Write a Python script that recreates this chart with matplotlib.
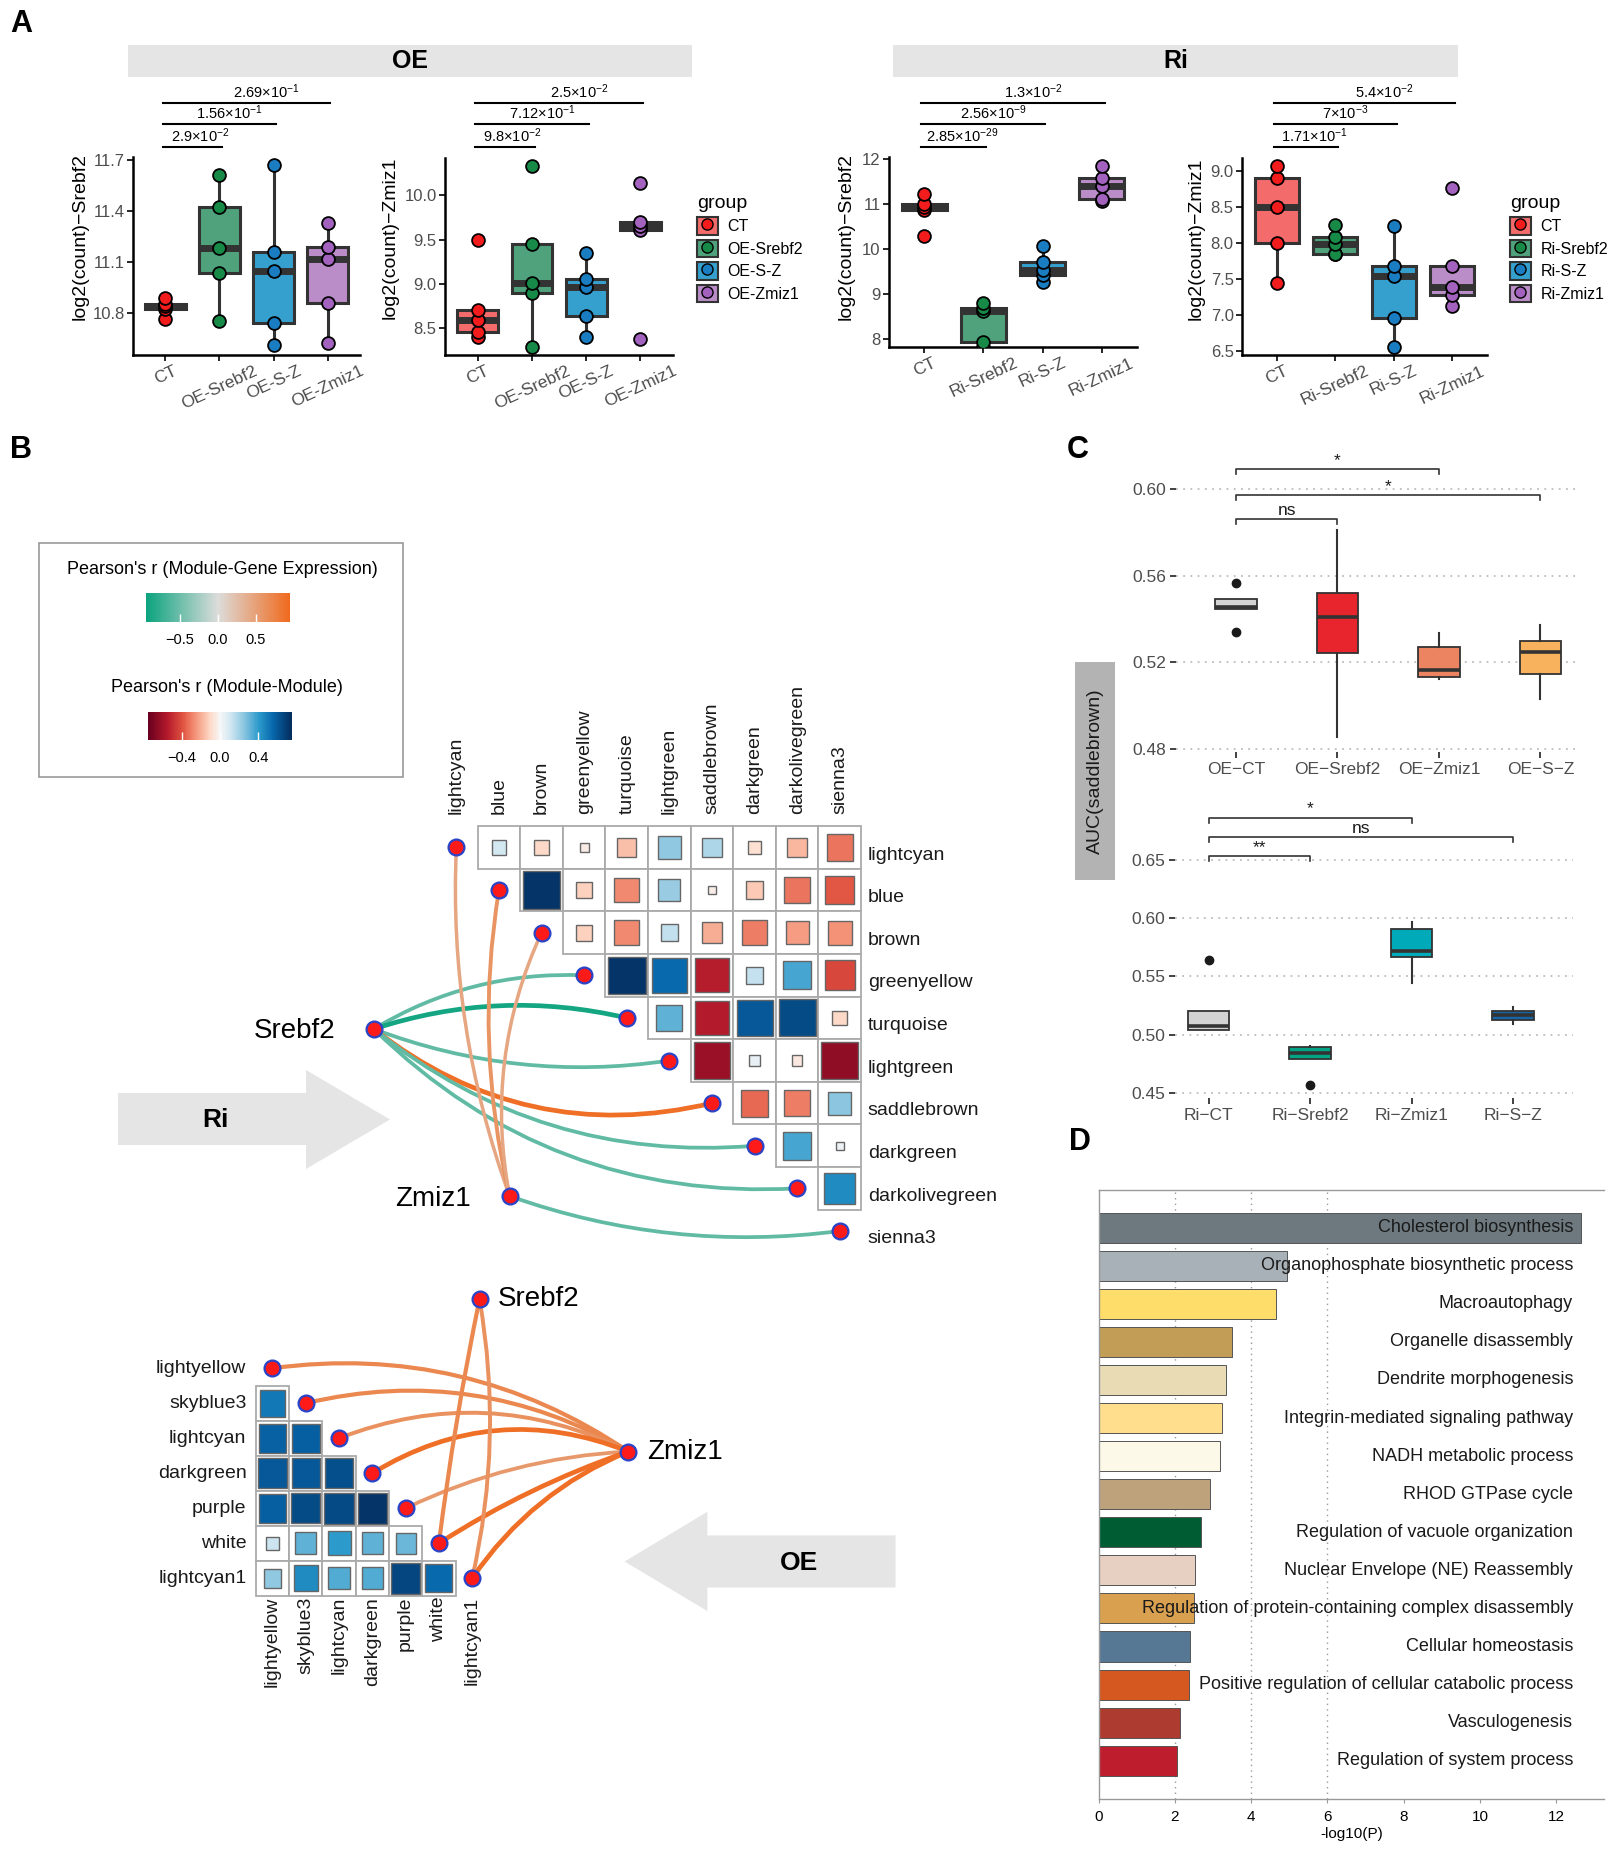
import numpy as np
import matplotlib
matplotlib.use('Agg')
import matplotlib.pyplot as plt
import matplotlib.transforms as mtransforms
from matplotlib.patches import Rectangle, Polygon, Patch, FancyArrowPatch
from matplotlib.lines import Line2D
from matplotlib.colors import LinearSegmentedColormap, Normalize
from matplotlib.cm import ScalarMappable

plt.rcParams['font.family'] = ['Liberation Sans', 'DejaVu Sans']
plt.rcParams['mathtext.fontset'] = 'custom'
plt.rcParams['mathtext.rm'] = 'Liberation Sans'
plt.rcParams['mathtext.it'] = 'Liberation Sans:italic'
plt.rcParams['mathtext.bf'] = 'Liberation Sans:bold'

W, H = 1617, 1855

# ---------------- data: panel A ----------------
oe_groups = ['CT', 'OE-Srebf2', 'OE-S-Z', 'OE-Zmiz1']
ri_groups = ['CT', 'Ri-Srebf2', 'Ri-S-Z', 'Ri-Zmiz1']

oe_srebf2 = [[10.765, 10.82, 10.84, 10.85, 10.889],
             [10.751, 11.036, 11.18, 11.426, 11.613],
             [10.607, 10.737, 11.046, 11.158, 11.672],
             [10.623, 10.859, 11.12, 11.19, 11.332]]
oe_zmiz1 = [[8.406, 8.463, 8.60, 8.706, 9.494],
            [8.294, 8.901, 9.014, 9.449, 10.326],
            [8.399, 8.639, 8.961, 9.051, 9.351],
            [8.376, 9.606, 9.651, 9.70, 10.139]]
ri_srebf2 = [[10.28, 10.87, 10.92, 10.99, 11.22],
             [7.82, 7.93, 8.62, 8.69, 8.80],
             [9.26, 9.43, 9.52, 9.70, 10.06],
             [11.06, 11.11, 11.39, 11.58, 11.85]]
ri_zmiz1 = [[7.444, 8.0, 8.5, 8.907, 9.065],
            [7.843, 7.85, 7.99, 8.083, 8.245],
            [6.556, 6.949, 7.537, 7.68, 8.231],
            [7.12, 7.273, 7.389, 7.68, 8.769]]

sig_oe_srebf2 = [(2, '2.9×10$^{-2}$'), (3, '1.56×10$^{-1}$'), (4, '2.69×10$^{-1}$')]
sig_oe_zmiz1 = [(2, '9.8×10$^{-2}$'), (3, '7.12×10$^{-1}$'), (4, '2.5×10$^{-2}$')]
sig_ri_srebf2 = [(2, '2.85×10$^{-29}$'), (3, '2.56×10$^{-9}$'), (4, '1.3×10$^{-2}$')]
sig_ri_zmiz1 = [(2, '1.71×10$^{-1}$'), (3, '7×10$^{-3}$'), (4, '5.4×10$^{-2}$')]

box_fill = ['#F46B6B', '#4FA27C', '#35A0CE', '#BB8DC8']
pt_fill = ['#F21C1C', '#178A48', '#1A7DC2', '#A262BE']

# ---------------- data: panel B ----------------
modules_ri = ['lightcyan', 'blue', 'brown', 'greenyellow', 'turquoise', 'lightgreen',
              'saddlebrown', 'darkgreen', 'darkolivegreen', 'sienna3']
# upper triangle, row i against modules i+1 ...
mm_ri = [[0.10, -0.10, -0.04, -0.16, 0.24, 0.18, -0.08, -0.18, -0.32],
         [0.72, -0.12, -0.28, 0.22, -0.03, -0.14, -0.32, -0.38],
         [-0.12, -0.28, 0.14, -0.20, -0.30, -0.24, -0.26],
         [0.72, 0.55, -0.54, 0.13, 0.36, -0.42],
         [0.32, -0.55, 0.60, 0.64, -0.10],
         [-0.62, 0.05, -0.05, -0.64],
         [-0.34, -0.30, 0.25],
         [0.36, 0.03],
         [0.45]]
edges_ri = [('Srebf2', 3, -0.55), ('Srebf2', 4, -0.90), ('Srebf2', 5, -0.55),
            ('Srebf2', 6, 0.90), ('Srebf2', 7, -0.55), ('Srebf2', 8, -0.55),
            ('Zmiz1', 0, 0.45), ('Zmiz1', 1, 0.60), ('Zmiz1', 2, 0.45), ('Zmiz1', 9, -0.55)]

modules_oe = ['lightyellow', 'skyblue3', 'lightcyan', 'darkgreen', 'purple', 'white', 'lightcyan1']
# lower triangle, row i+1 against modules 0 .. i
mm_oe = [[0.50],
         [0.57, 0.58],
         [0.60, 0.60, 0.63],
         [0.58, 0.64, 0.65, 0.72],
         [0.12, 0.32, 0.40, 0.32, 0.30],
         [0.24, 0.45, 0.34, 0.34, 0.66, 0.55]]
edges_oe = [('Zmiz1', 0, 0.70), ('Zmiz1', 1, 0.70), ('Zmiz1', 2, 0.62), ('Zmiz1', 3, 0.90),
            ('Zmiz1', 4, 0.55), ('Zmiz1', 5, 0.90), ('Zmiz1', 6, 0.90),
            ('Srebf2', 5, 0.70), ('Srebf2', 6, 0.62)]

# ---------------- data: panel C ----------------
c_oe_labels = ['OE\u2212CT', 'OE\u2212Srebf2', 'OE\u2212Zmiz1', 'OE\u2212S\u2212Z']
c_oe_q1 = [0.5444, 0.5243, 0.5133, 0.5144]
c_oe_med = [0.5454, 0.5411, 0.5164, 0.5249]
c_oe_q3 = [0.5493, 0.5520, 0.5269, 0.5300]
c_oe_lo = [0.5444, 0.4856, 0.5125, 0.5031]
c_oe_hi = [0.5493, 0.5809, 0.5335, 0.5370]
c_oe_out = [[0.5567, 0.5339], [], [], []]
c_oe_sig = [(2, 'ns'), (3, '*'), (4, '*')]

c_ri_labels = ['Ri\u2212CT', 'Ri\u2212Srebf2', 'Ri\u2212Zmiz1', 'Ri\u2212S\u2212Z']
c_ri_q1 = [0.5036, 0.4795, 0.5669, 0.5125]
c_ri_med = [0.5075, 0.4845, 0.5715, 0.5171]
c_ri_q3 = [0.5201, 0.4891, 0.5910, 0.5201]
c_ri_lo = [0.5036, 0.4795, 0.5439, 0.5094]
c_ri_hi = [0.5201, 0.4902, 0.5964, 0.5236]
c_ri_out = [[0.5642], [0.4569], [], []]
c_ri_sig = [(3, '*'), (4, 'ns'), (2, '**')]

c_oe_colors = ['#D3D3D3', '#E8252C', '#EC8462', '#F8B15C']
c_ri_colors = ['#D3D3D3', '#00A383', '#00AAB8', '#1565A8']

# ---------------- data: panel D ----------------
d_terms = ['Cholesterol biosynthesis', 'Organophosphate biosynthetic process', 'Macroautophagy',
           'Organelle disassembly', 'Dendrite morphogenesis', 'Integrin-mediated signaling pathway',
           'NADH metabolic process', 'RHOD GTPase cycle', 'Regulation of vacuole organization',
           'Nuclear Envelope (NE) Reassembly', 'Regulation of protein-containing complex disassembly',
           'Cellular homeostasis', 'Positive regulation of cellular catabolic process',
           'Vasculogenesis', 'Regulation of system process']
d_vals = [12.65, 4.95, 4.66, 3.51, 3.35, 3.24, 3.18, 2.91, 2.68, 2.54, 2.50, 2.41, 2.36, 2.14, 2.07]
d_colors = ['#6D797E', '#A9B1B8', '#FFDD6A', '#C29D56', '#E9DBB3', '#FFDF8E', '#FCF9E9', '#BEA27B',
            '#005C33', '#E7D0C1', '#D9A04F', '#577895', '#D4581F', '#AE3B2F', '#BD1D2C']

# colour scales
gene_cmap = LinearSegmentedColormap.from_list('gene', ['#0AA37E', '#DCDCDA', '#F06A1E'])
gene_norm = Normalize(-0.95, 0.95)
mod_cmap = LinearSegmentedColormap.from_list('mod', [
    (0.0, '#67001F'), (0.13, '#B2182B'), (0.24, '#E0523F'), (0.33, '#F4957A'), (0.43, '#FDD8C6'),
    (0.5, '#F7F7F7'), (0.57, '#D3E8F2'), (0.67, '#88C4DF'), (0.77, '#2B9ACB'), (0.87, '#0767AB'),
    (1.0, '#032B5C')])
mod_norm = Normalize(-0.75, 0.75)

fig = plt.figure(figsize=(W / 100, H / 100), dpi=100)


def rect(x0, y0, x1, y1):
    return [x0 / W, 1 - y1 / H, (x1 - x0) / W, (y1 - y0) / H]


def ftext(x, y, s, **kw):
    return fig.text(x / W, 1 - y / H, s, **kw)


def frect(x0, y0, x1, y1, **kw):
    fig.add_artist(Rectangle((x0 / W, 1 - y1 / H), (x1 - x0) / W, (y1 - y0) / H,
                             transform=fig.transFigure, zorder=-1, **kw))


def fpoly(pts, **kw):
    fig.add_artist(Polygon([(x / W, 1 - y / H) for x, y in pts], closed=True,
                           transform=fig.transFigure, zorder=-1, **kw))


# ---------------- panel A ----------------
sig_px = [147, 124, 103]
sig_shift = [8, 10, 20]  # label offset to the right, pixels


def a_panel(px, values, groups, ylim, yticks, yfmt, ylabel, ylab_xy, sig):
    ax = fig.add_axes(rect(*px))
    pos = np.arange(1, len(values) + 1)
    bp = ax.boxplot(values, positions=pos, widths=0.75, patch_artist=True,
                    showfliers=False, showcaps=False, whis=1.5,
                    boxprops=dict(edgecolor='#333333', linewidth=2.2),
                    whiskerprops=dict(color='#333333', linewidth=2.2),
                    medianprops=dict(color='#333333', linewidth=5, solid_capstyle='butt'))
    for patch, c in zip(bp['boxes'], box_fill):
        patch.set_facecolor(c)
    for k, v in enumerate(values):
        ax.scatter(np.full(len(v), pos[k]), v, s=85, color=pt_fill[k],
                   edgecolors='black', linewidths=1.3, zorder=4)
    ax.set_xlim(0.4, 4.6)
    ax.set_ylim(*ylim)
    ax.set_yticks(yticks)
    ax.set_yticklabels([yfmt.format(t) for t in yticks])
    ax.set_xticks(pos)
    ax.set_xticklabels(groups, rotation=25, ha='center')
    for s in ['top', 'right']:
        ax.spines[s].set_visible(False)
    for s in ['left', 'bottom']:
        ax.spines[s].set_linewidth(1.8)
    ax.tick_params(labelsize=12, labelcolor='#4D4D4D', length=4, width=1.2, pad=2)
    ax.tick_params(axis='x', labelsize=12.5)
    ftext(ylab_xy[0], ylab_xy[1], ylabel, rotation=90, ha='center', va='center', fontsize=14)
    trans = mtransforms.blended_transform_factory(ax.transData, fig.transFigure)
    unit_px = (px[2] - px[0]) / 4.2
    for (g, lab), ypx, dx in zip(sig, sig_px, sig_shift):
        yy = 1 - ypx / H
        ax.plot([0.95, g + 0.05], [yy, yy], transform=trans, color='black', lw=1.5, clip_on=False)
        ax.text((1 + g) / 2 + dx / unit_px, yy + 2 / H, lab, transform=trans, ha='center', va='bottom',
                fontsize=10.5)
    return ax


def a_legend(groups, x, y):
    handles = [(Patch(facecolor=box_fill[k], edgecolor='#333333', linewidth=1.5),
                Line2D([], [], ls='none', marker='o', markersize=8, markerfacecolor=pt_fill[k],
                       markeredgecolor='black'))
               for k in range(len(groups))]
    fig.legend(handles, groups, title='group', loc='upper left', bbox_to_anchor=(x / W, 1 - y / H),
               frameon=False, fontsize=11.5, title_fontsize=14, handlelength=1.3, handleheight=1.3,
               labelspacing=0.32, borderaxespad=0, borderpad=0, handletextpad=0.6, alignment='left')


for x0, x1, lab in [(128, 692, 'OE'), (893, 1458, 'Ri')]:
    frect(x0, 45, x1, 77, facecolor='#E5E5E5', edgecolor='none')
    ftext((x0 + x1) / 2, 61, lab, ha='center', va='center', fontsize=18, fontweight='bold')

a_panel((133, 157, 360, 355), oe_srebf2, oe_groups, (10.55, 11.72), [10.8, 11.1, 11.4, 11.7], '{:.1f}',
        'log2(count)\u2212Srebf2', (80, 237), sig_oe_srebf2)
a_panel((445, 158, 673, 355), oe_zmiz1, oe_groups, (8.2, 10.42), [8.5, 9.0, 9.5, 10.0], '{:.1f}',
        'log2(count)\u2212Zmiz1', (390, 238), sig_oe_zmiz1)
a_panel((889, 157, 1137, 347), ri_srebf2, ri_groups, (7.82, 12.04), [8, 9, 10, 11, 12], '{:.0f}',
        'log2(count)\u2212Srebf2', (846, 237), sig_ri_srebf2)
a_panel((1242, 158, 1487, 355), ri_zmiz1, ri_groups, (6.44, 9.18), [6.5, 7.0, 7.5, 8.0, 8.5, 9.0],
        '{:.1f}', 'log2(count)\u2212Zmiz1', (1196, 239), sig_ri_zmiz1)
a_legend(oe_groups, 697, 195)
a_legend(ri_groups, 1510, 195)

# ---------------- panel B ----------------
frect(39, 543, 403, 777, facecolor='white', edgecolor='#999999', linewidth=1.2)
ftext(222, 570, "Pearson's r (Module-Gene Expression)", ha='center', va='center', fontsize=13)
ftext(227, 687, "Pearson's r (Module-Module)", ha='center', va='center', fontsize=13)
for cpx, cmap, norm, ticks, tlabs in [((146, 593, 290, 622), gene_cmap, gene_norm, [-0.5, 0, 0.5],
                                       ['\u22120.5', '0.0', '0.5']),
                                      ((148, 712, 292, 740), mod_cmap, mod_norm, [-0.4, 0, 0.4],
                                       ['\u22120.4', '0.0', '0.4'])]:
    cax = fig.add_axes(rect(*cpx))
    cb = fig.colorbar(ScalarMappable(norm=norm, cmap=cmap), cax=cax, orientation='horizontal', ticks=ticks)
    cb.outline.set_visible(False)
    cb.ax.set_xticklabels(tlabs)
    cax.tick_params(direction='in', color='white', length=6, width=1, labelsize=10.5, pad=8)


def draw_cells(ax, mm, lower):
    for i, row in enumerate(mm):
        for k, r in enumerate(row):
            ii, jj = (i + 1, k) if lower else (i, i + 1 + k)
            ax.add_patch(Rectangle((jj - 0.5, ii - 0.5), 1, 1, facecolor='white', edgecolor='#AAAAAA',
                                   linewidth=1.3, zorder=1))
            s = min(0.88, 1.09 * np.sqrt(abs(r)))
            ax.add_patch(Rectangle((jj - s / 2, ii - s / 2), s, s, facecolor=mod_cmap(mod_norm(r)),
                                   edgecolor='#666666', linewidth=1.0, zorder=2))


def draw_edges(ax, edges, rads, gene_pos):
    for (gene, m, r), rad in zip(edges, rads):
        ax.add_patch(FancyArrowPatch(gene_pos[gene], (m, m), arrowstyle='-',
                                     connectionstyle=f'arc3,rad={rad}', color=gene_cmap(gene_norm(r)),
                                     linewidth=1.6 + 2.0 * abs(r), shrinkA=0, shrinkB=0,
                                     capstyle='round', zorder=3))


def draw_nodes(ax, n, gene_pos):
    idx = np.arange(n)
    gx = [p[0] for p in gene_pos.values()]
    gy = [p[1] for p in gene_pos.values()]
    ax.scatter(np.r_[idx, gx], np.r_[idx, gy], s=130, color='#FF1A1A', edgecolors='#2A44C8',
               linewidths=1.6, zorder=5)


# Ri network (upper)
ax_u = fig.add_axes(rect(90, 700, 1060, 1280))
ax_u.set_xlim(-8.6, 14.17)
ax_u.set_ylim(10.15, -3.46)
ax_u.axis('off')
pos_ri = {'Srebf2': (-1.94, 4.26), 'Zmiz1': (1.25, 8.18)}
rad_ri = [-0.15, -0.14, 0.13, 0.24, 0.2, 0.22, -0.1, -0.1, -0.16, 0.12]
draw_cells(ax_u, mm_ri, lower=False)
draw_edges(ax_u, edges_ri, rad_ri, pos_ri)
draw_nodes(ax_u, len(modules_ri), pos_ri)
for j, name in enumerate(modules_ri):
    ax_u.text(j, -0.79, name, rotation=90, ha='center', va='bottom', fontsize=14, color='#1A1A1A')
    ax_u.text(9.66, j + 0.18, name, ha='left', va='center', fontsize=14, color='#1A1A1A')
ax_u.text(-2.85, 4.3, 'Srebf2', ha='right', va='center', fontsize=20)
ax_u.text(0.34, 8.24, 'Zmiz1', ha='right', va='center', fontsize=20)

# OE network (lower)
ax_l = fig.add_axes(rect(100, 1280, 960, 1720))
ax_l.set_xlim(-5.18, 20.65)
ax_l.set_ylim(10.05, -2.52)
ax_l.axis('off')
pos_oe = {'Srebf2': (6.22, -1.97), 'Zmiz1': (10.69, 2.38)}
rad_oe = [0.19, 0.2, 0.22, 0.25, 0.1, 0.06, 0.15, 0.02, -0.1]
draw_cells(ax_l, mm_oe, lower=True)
draw_edges(ax_l, edges_oe, rad_oe, pos_oe)
draw_nodes(ax_l, len(modules_oe), pos_oe)
for j, name in enumerate(modules_oe):
    ax_l.text(j, 6.53, name, rotation=90, ha='center', va='top', fontsize=14, color='#1A1A1A')
    ax_l.text(-0.78, j, name, ha='right', va='center', fontsize=14, color='#1A1A1A')
ax_l.text(6.77, -1.97, 'Srebf2', ha='left', va='center', fontsize=20)
ax_l.text(11.25, 2.38, 'Zmiz1', ha='left', va='center', fontsize=20)

# block arrows
fpoly([(118, 1093), (306, 1093), (306, 1070), (390, 1119.5), (306, 1169), (306, 1145), (118, 1145)],
      facecolor='#E5E5E5', edgecolor='none')
ftext(215, 1120, 'Ri', ha='center', va='center', fontsize=19, fontweight='bold')
fpoly([(895.5, 1535.4), (707.4, 1535.4), (707.4, 1511.7), (624.6, 1561.5), (707.4, 1611.1),
       (707.4, 1587.5), (895.5, 1587.5)], facecolor='#E5E5E5', edgecolor='none')
ftext(799, 1563, 'OE', ha='center', va='center', fontsize=19, fontweight='bold')


# ---------------- panel C ----------------
def c_panel(px, labels, q1, med, q3, lo, hi, out, colors, xlim, ylim, yticks, sig, sig_y):
    ax = fig.add_axes(rect(*px))
    stats = [dict(q1=q1[k], med=med[k], q3=q3[k], whislo=lo[k], whishi=hi[k], fliers=out[k])
             for k in range(len(labels))]
    bp = ax.bxp(stats, positions=np.arange(1, 5), widths=0.41, patch_artist=True, showcaps=False,
                showfliers=True,
                boxprops=dict(edgecolor='#333333', linewidth=1.3),
                whiskerprops=dict(color='#333333', linewidth=1.5),
                medianprops=dict(color='#333333', linewidth=2.6, solid_capstyle='butt'),
                flierprops=dict(marker='o', markersize=6, markerfacecolor='#1A1A1A',
                                markeredgecolor='#1A1A1A'))
    for patch, c in zip(bp['boxes'], colors):
        patch.set_facecolor(c)
    ax.set_xlim(*xlim)
    ax.set_ylim(*ylim)
    ax.set_yticks(yticks)
    ax.set_yticklabels(['%.2f' % t for t in yticks])
    ax.set_xticks(np.arange(1, 5))
    ax.set_xticklabels(labels)
    for s in ax.spines.values():
        s.set_visible(False)
    ax.yaxis.grid(True, color='#BDBDBD', linestyle=(0, (1, 3)), linewidth=1.3)
    ax.set_axisbelow(True)
    ax.tick_params(labelsize=12.5, labelcolor='#4D4D4D', length=4, width=1.3, color='#333333', pad=3)
    tip = 5 * (ylim[1] - ylim[0]) / (px[3] - px[1])
    for (g, lab), yb in zip(sig, sig_y):
        ax.plot([1, 1, g, g], [yb - tip, yb, yb, yb - tip], color='#333333', lw=1.2, clip_on=False)
        ax.text((1 + g) / 2, yb + tip * 0.2, lab, ha='center', va='bottom', fontsize=12.5, color='#1A1A1A')


c_panel((1176, 480, 1577, 752), c_oe_labels, c_oe_q1, c_oe_med, c_oe_q3, c_oe_lo, c_oe_hi, c_oe_out,
        c_oe_colors, (0.41, 4.36), (0.4786, 0.6041), [0.48, 0.52, 0.56, 0.60], c_oe_sig,
        [0.5860, 0.6091, 0.5973])
c_panel((1175, 850, 1573, 1098), c_ri_labels, c_ri_q1, c_ri_med, c_ri_q3, c_ri_lo, c_ri_hi, c_ri_out,
        c_ri_colors, (0.67, 4.59), (0.4456, 0.6585), [0.45, 0.50, 0.55, 0.60, 0.65], c_ri_sig,
        [0.6864, 0.6695, 0.6531])
frect(1075, 662, 1115, 880, facecolor='#B3B3B3', edgecolor='none')
ftext(1095, 771, 'AUC(saddlebrown)', rotation=90, ha='center', va='center', fontsize=14, color='#1A1A1A')

# ---------------- panel D ----------------
ax_d = fig.add_axes(rect(1098.5, 1189.6, 1604, 1798.8))
yy = np.arange(len(d_vals))
ax_d.barh(yy, d_vals, height=0.79, color=d_colors, edgecolor='#555555', linewidth=0.7, zorder=2)
for x in [2, 4, 6]:
    ax_d.axvline(x, color='#999999', linestyle=(0, (1, 3)), linewidth=1, zorder=0)
for i, term in enumerate(d_terms):
    ax_d.text(12.44, i, term, ha='right', va='center', fontsize=13, color='#1A1A1A', zorder=4)
ax_d.set_xlim(0, 13.25)
ax_d.set_ylim(len(d_vals), -1.0)
ax_d.set_xticks(np.arange(0, 13, 2))
ax_d.set_yticks([])
ax_d.spines['right'].set_visible(False)
for s in ['top', 'left', 'bottom']:
    ax_d.spines[s].set_color('#999999')
    ax_d.spines[s].set_linewidth(1.0)
ax_d.tick_params(axis='x', length=3, color='#999999', labelsize=11, pad=5)
ax_d.set_xlabel('-log10(P)', fontsize=11, labelpad=2)

# panel letters
for lab, x, y in [('A', 21, 24), ('B', 21, 450), ('C', 1078, 450), ('D', 1080, 1142)]:
    ftext(x, y, lab, ha='center', va='center', fontsize=22, fontweight='bold')

fig.savefig('out.png', dpi=100)
